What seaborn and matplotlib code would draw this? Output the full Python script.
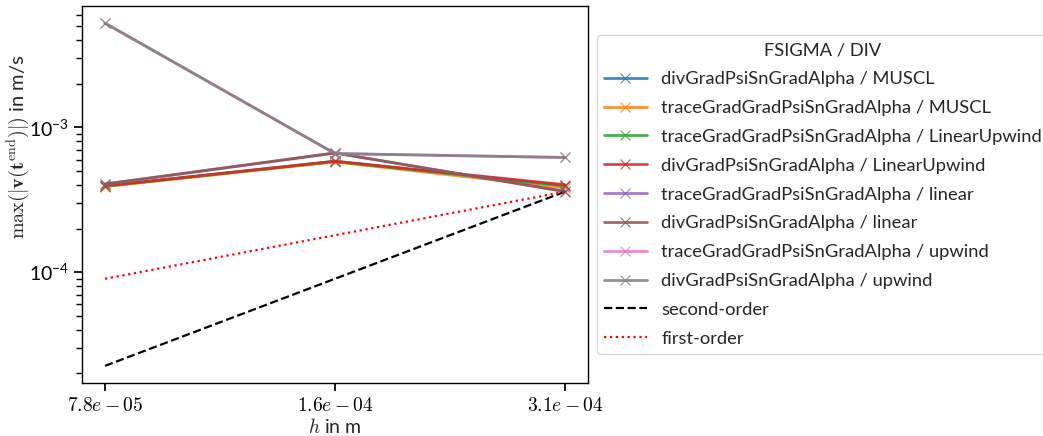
import numpy as np
import pandas as pd
import matplotlib
matplotlib.use("Agg")
import matplotlib.pyplot as plt
from matplotlib.ticker import NullLocator
import seaborn as sns

# grid spacing of the three meshes
h = [7.8125e-05, 1.5625e-04, 3.125e-04]
h_labels = ["$7.8e-05$", "$1.6e-04$", "$3.1e-04$"]

# max |v(t_end)| for each FSIGMA / DIV combination
series_labels = [
    "divGradPsiSnGradAlpha / MUSCL",
    "traceGradGradPsiSnGradAlpha / MUSCL",
    "traceGradGradPsiSnGradAlpha / LinearUpwind",
    "divGradPsiSnGradAlpha / LinearUpwind",
    "traceGradGradPsiSnGradAlpha / linear",
    "divGradPsiSnGradAlpha / linear",
    "traceGradGradPsiSnGradAlpha / upwind",
    "divGradPsiSnGradAlpha / upwind",
]
div_muscl = [3.93e-04, 5.82e-04, 3.95e-04]
trace_muscl = [3.90e-04, 5.78e-04, 3.82e-04]
trace_linup = [3.93e-04, 5.82e-04, 3.95e-04]
div_linup = [3.95e-04, 5.85e-04, 4.02e-04]
trace_linear = [4.05e-04, 6.65e-04, 3.62e-04]
div_linear = [4.07e-04, 6.67e-04, 3.60e-04]
trace_upwind = [5.26e-03, 6.60e-04, 6.20e-04]
div_upwind = [5.26e-03, 6.60e-04, 6.20e-04]
series_values = [div_muscl, trace_muscl, trace_linup, div_linup,
                 trace_linear, div_linear, trace_upwind, div_upwind]

# reference slopes anchored at the coarsest mesh
second_order = [2.25e-05, 9.0e-05, 3.6e-04]
first_order = [9.0e-05, 1.8e-04, 3.6e-04]

sns.set_theme(style="ticks")
plt.rcParams.update({
    "font.family": ["Lato", "DejaVu Sans"],
    "mathtext.fontset": "cm",
    "font.size": 14,
    "axes.labelsize": 14,
    "xtick.labelsize": 14,
    "ytick.labelsize": 14,
    "legend.fontsize": 13.2,
    "legend.title_fontsize": 13.2,
    "axes.edgecolor": "black",
    "axes.linewidth": 1.0,
    "xtick.color": "black",
    "ytick.color": "black",
})

fig = plt.figure(figsize=(10.43, 4.36), dpi=100)
ax = fig.add_axes([82 / 1043, 1 - 383 / 436, 506 / 1043, 377 / 436])

palette = sns.color_palette("tab10", 8)
for label, vals, col in zip(series_labels, series_values, palette):
    df = pd.DataFrame({"h": h, "v": vals})
    sns.lineplot(data=df, x="h", y="v", ax=ax, color=col, marker="x",
                 markeredgecolor=col, markersize=6.5, linewidth=2.0,
                 alpha=0.85, label=label)

sns.lineplot(x=h, y=second_order, ax=ax, color="black", linestyle="--",
             linewidth=1.6, label="second-order")
sns.lineplot(x=h, y=first_order, ax=ax, color="red", linestyle=":",
             linewidth=1.6, label="first-order")

ax.set_xscale("log")
ax.set_yscale("log")
ax.set_xticks(h)
ax.set_xticklabels(h_labels)
ax.xaxis.set_minor_locator(NullLocator())
ax.set_xlabel("$h$ in m", labelpad=2)
ax.set_ylabel(r"$\max(|\mathbf{v}(\mathbf{t}^{\mathrm{end}})|)$ in m/s",
              fontsize=14.5)
ax.yaxis.set_label_coords(-0.1, 0.626)

ax.legend(title="FSIGMA / DIV", loc="center left",
          bbox_to_anchor=(597 / 1043, 1 - 194.5 / 436),
          bbox_transform=fig.transFigure, borderaxespad=0,
          handlelength=2.3, labelspacing=0.7, frameon=True)

fig.savefig("out.png", dpi=100)
